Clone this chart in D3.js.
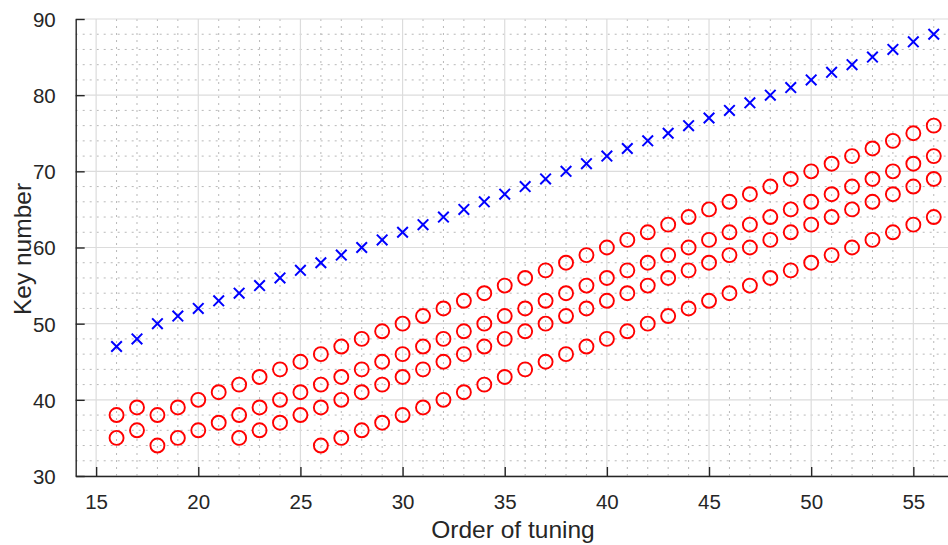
<!DOCTYPE html>
<html>
<head>
<meta charset="utf-8">
<script src="https://cdn.jsdelivr.net/npm/d3@7"></script>
<style>
  html, body { margin: 0; padding: 0; background: #fff; }
  svg { display: block; font-family: "Liberation Sans", Arial, Helvetica, sans-serif; }
</style>
</head>
<body>
<svg id="chart" width="948" height="545"></svg>
<script>
// Order in which strings are tuned
const order = [16,17,18,19,20,21,22,23,24,25,26,27,28,29,30,31,32,33,34,35,36,37,38,39,40,41,42,43,44,45,46,47,48,49,50,51,52,53,54,55,56];
// Key being tuned at each step
const keyTuned = [47,48,50,51,52,53,54,55,56,57,58,59,60,61,62,63,64,65,66,67,68,69,70,71,72,73,74,75,76,77,78,79,80,81,82,83,84,85,86,87,88];
// Reference keys checked against
const keyRefA = [38,39,38,39,40,41,42,43,44,45,46,47,48,49,50,51,52,53,54,55,56,57,58,59,60,61,62,63,64,65,66,67,68,69,70,71,72,73,74,75,76];
const keyRefB = [35,36,34,35,36,37,38,39,40,41,42,43,44,45,46,47,48,49,50,51,52,53,54,55,56,57,58,59,60,61,62,63,64,65,66,67,68,69,70,71,72];
const orderC = [22,23,24,25,26,27,28,29,30,31,32,33,34,35,36,37,38,39,40,41,42,43,44,45,46,47,48,49,50,51,52,53,54,55,56];
const keyRefC = [35,36,37,38,39,40,41,42,43,44,45,46,47,48,49,50,51,52,53,54,55,56,57,58,59,60,61,62,63,64,65,66,67,68,69];
const orderD = [26,27,28,29,30,31,32,33,34,35,36,37,38,39,40,41,42,43,44,45,46,47,48,49,50,51,52,53,54,55,56];
const keyRefD = [34,35,36,37,38,39,40,41,42,43,44,45,46,47,48,49,50,51,52,53,54,55,56,57,58,59,60,61,62,63,64];

const xTicks = [15,20,25,30,35,40,45,50,55];
const yTicks = [30,40,50,60,70,80,90];
const xMinor = [16,17,18,19,21,22,23,24,26,27,28,29,31,32,33,34,36,37,38,39,41,42,43,44,46,47,48,49,51,52,53,54,56];
const yMinor = [32,34,36,38,42,44,46,48,52,54,56,58,62,64,66,68,72,74,76,78,82,84,86,88];

const svg = d3.select("#chart");
const plotLeft = 75.7, plotTop = 19, plotBottom = 476;
const x = d3.scaleLinear().domain([14, 57]).range([plotLeft, plotLeft + 43 * 20.43]);
const y = d3.scaleLinear().domain([30, 90]).range([plotBottom, plotTop]);
const axisColor = "#262626";

// minor grid (dotted)
const g = svg.append("g");
g.selectAll("line.xm").data(xMinor).join("line")
  .attr("x1", d => x(d)).attr("x2", d => x(d)).attr("y1", plotTop).attr("y2", plotBottom)
  .attr("stroke", "#b8b8b8").attr("stroke-width", 1).attr("stroke-dasharray", "2,5");
g.selectAll("line.ym").data(yMinor).join("line")
  .attr("y1", d => y(d)).attr("y2", d => y(d)).attr("x1", plotLeft).attr("x2", 948)
  .attr("stroke", "#b8b8b8").attr("stroke-width", 1).attr("stroke-dasharray", "2,5");

// major grid
g.selectAll("line.xg").data(xTicks).join("line")
  .attr("x1", d => x(d)).attr("x2", d => x(d)).attr("y1", plotTop).attr("y2", plotBottom)
  .attr("stroke", "#dcdcdc").attr("stroke-width", 1.2);
g.selectAll("line.yg").data(yTicks).join("line")
  .attr("y1", d => y(d)).attr("y2", d => y(d)).attr("x1", plotLeft).attr("x2", 948)
  .attr("stroke", "#dcdcdc").attr("stroke-width", 1.2);

// axes with inward ticks
const xAxis = d3.axisBottom(x).tickValues(xTicks).tickSizeInner(-9).tickSizeOuter(0).tickPadding(18);
const yAxis = d3.axisLeft(y).tickValues(yTicks).tickSizeInner(-9).tickSizeOuter(0).tickPadding(20);

const gx = svg.append("g").attr("transform", `translate(0,${plotBottom})`).call(xAxis);
const gy = svg.append("g").attr("transform", `translate(${plotLeft},0)`).call(yAxis);
[gx, gy].forEach(a => {
  a.select(".domain").attr("stroke", axisColor).attr("stroke-width", 1.4);
  a.selectAll(".tick line").attr("stroke", axisColor).attr("stroke-width", 1.4);
  a.selectAll(".tick text").attr("fill", axisColor).attr("font-size", 20.5)
    .attr("font-family", "'Liberation Sans', Arial, sans-serif");
});
gx.selectAll(".tick text").attr("dy", "0.71em");
gy.selectAll(".tick text").attr("dy", "0.36em");

// reference keys (red circles)
const refSeries = [
  order.map((o, i) => [o, keyRefA[i]]),
  order.map((o, i) => [o, keyRefB[i]]),
  orderC.map((o, i) => [o, keyRefC[i]]),
  orderD.map((o, i) => [o, keyRefD[i]])
];
const circles = svg.append("g");
refSeries.forEach(s => {
  circles.append("g").selectAll("circle").data(s).join("circle")
    .attr("cx", d => x(d[0])).attr("cy", d => y(d[1])).attr("r", 7)
    .attr("fill", "none").attr("stroke", "#ff0000").attr("stroke-width", 1.9);
});

// tuned keys (blue crosses)
const h = 5.3;
svg.append("g").selectAll("path").data(order.map((o, i) => [o, keyTuned[i]])).join("path")
  .attr("d", d => {
    const cx = x(d[0]), cy = y(d[1]);
    return `M${cx - h},${cy - h}L${cx + h},${cy + h}M${cx - h},${cy + h}L${cx + h},${cy - h}`;
  })
  .attr("stroke", "#0000ff").attr("stroke-width", 2).attr("fill", "none");

// axis titles
svg.append("text").attr("x", 513).attr("y", 538).attr("text-anchor", "middle")
  .attr("font-size", 24.5).attr("fill", axisColor).text("Order of tuning");
svg.append("text").attr("transform", "translate(31,249) rotate(-90)").attr("text-anchor", "middle")
  .attr("font-size", 24.5).attr("fill", axisColor).text("Key number");
</script>
</body>
</html>
